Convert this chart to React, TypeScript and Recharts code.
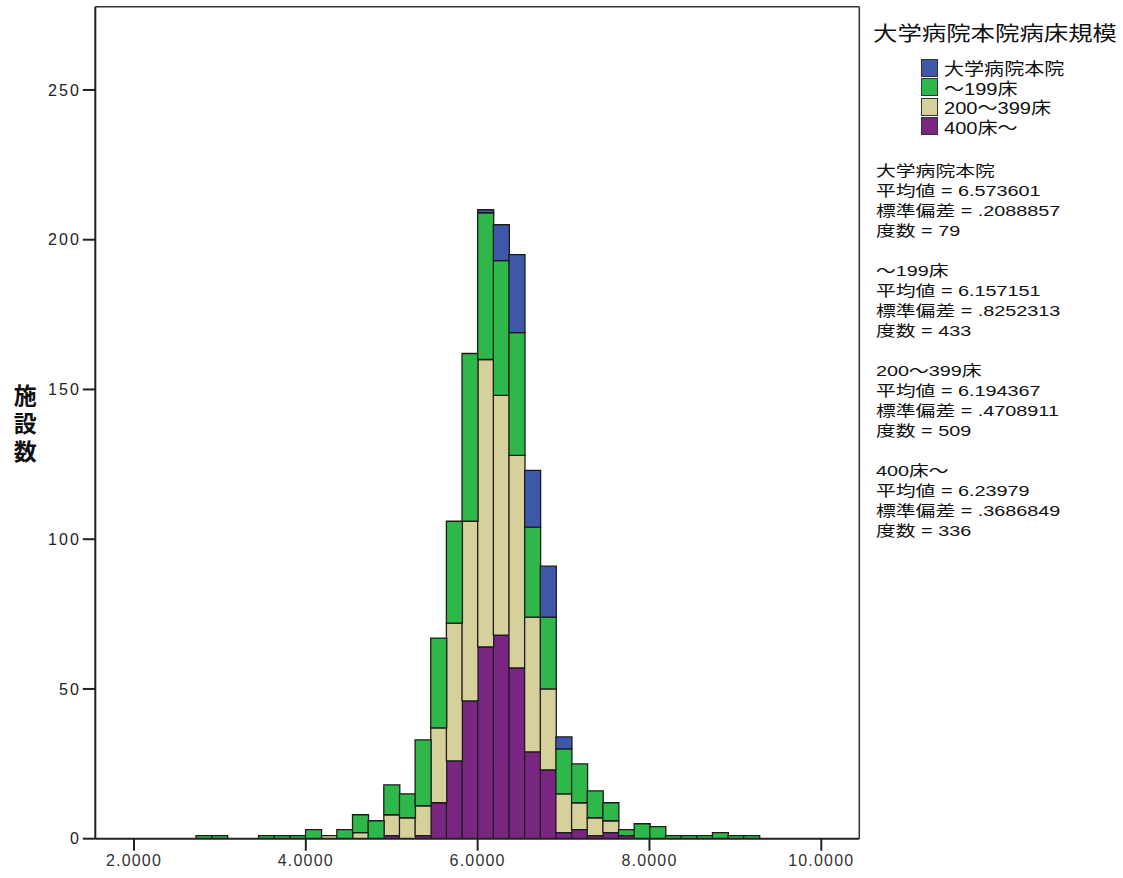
import React from "react";
import {
  BarChart,
  Bar,
  XAxis,
  YAxis,
  Label,
} from "recharts";

const FONT = "'Liberation Sans', 'Noto Sans CJK JP', sans-serif";

// histogram bin centres (bin width ~0.182)
const BIN_CENTERS = [
  2.8129, 2.995, 3.1772, 3.3593, 3.5415, 3.7236, 3.9058, 4.0879, 4.2701,
  4.4522, 4.6344, 4.8165, 4.9987, 5.1808, 5.363, 5.5451, 5.7273, 5.9094,
  6.0916, 6.2737, 6.4559, 6.638, 6.8202, 7.0023, 7.1845, 7.3666, 7.5488,
  7.7309, 7.9131, 8.0952, 8.2774, 8.4595, 8.6417, 8.8238, 9.006, 9.1881,
];

const UNIV_MAIN = [
  0, 0, 0, 0, 0, 0, 0, 0, 0, 0, 0, 0, 0, 0, 0, 0, 0, 0,
  1, 12, 26, 19, 17, 4,
  0, 0, 0, 0, 0, 0, 0, 0, 0, 0, 0, 0,
];
const BEDS_UNDER_200 = [
  1, 1, 0, 0, 1, 1, 1, 3, 0, 3, 6, 6, 10, 8, 22, 30, 34, 56,
  49, 45, 41, 30, 24, 15, 13, 9, 6, 2, 5, 4, 1, 1, 1, 2, 1, 1,
];
const BEDS_200_399 = [
  0, 0, 0, 0, 0, 0, 0, 0, 1, 0, 2, 0, 7, 7, 10, 25, 46, 60,
  96, 80, 71, 45, 27, 13, 9, 6, 4, 0, 0, 0, 0, 0, 0, 0, 0, 0,
];
const BEDS_400_PLUS = [
  0, 0, 0, 0, 0, 0, 0, 0, 0, 0, 0, 0, 1, 0, 1, 12, 26, 46,
  64, 68, 57, 29, 23, 2, 3, 1, 2, 1, 0, 0, 0, 0, 0, 0, 0, 0,
];

const X_TICKS = [2, 4, 6, 8, 10];
const Y_TICKS = [0, 50, 100, 150, 200, 250];

// bottom of the stack first
const SERIES = [
  { key: "b400", name: "400床～", color: "#7B2582" },
  { key: "b200", name: "200～399床", color: "#D6D19A" },
  { key: "b0", name: "～199床", color: "#2EB84A" },
  { key: "univ", name: "大学病院本院", color: "#3D58A8" },
];

const STATS = [
  { name: "大学病院本院", mean: "6.573601", sd: ".2088857", n: "79" },
  { name: "～199床", mean: "6.157151", sd: ".8252313", n: "433" },
  { name: "200～399床", mean: "6.194367", sd: ".4708911", n: "509" },
  { name: "400床～", mean: "6.23979", sd: ".3686849", n: "336" },
];

const data = BIN_CENTERS.map((x, i) => ({
  x,
  univ: UNIV_MAIN[i],
  b0: BEDS_UNDER_200[i],
  b200: BEDS_200_399[i],
  b400: BEDS_400_PLUS[i],
}));

function YTitle(props: any) {
  const vb = props.viewBox || { x: 0, y: 0, height: 0 };
  const cx = vb.x - 30;
  const cy = vb.y + vb.height / 2 - 19;
  return (
    <text
      x={cx}
      y={cy}
      textAnchor="middle"
      fontFamily={FONT}
      fontWeight="bold"
      fontSize={23}
      fill="#111"
    >
      {["施", "設", "数"].map((ch, i) => (
        <tspan key={ch} x={cx} dy={i === 0 ? 0 : 28}>
          {ch}
        </tspan>
      ))}
    </text>
  );
}

// text in the reference is drawn slightly stretched horizontally
const stretch = (sx: number): React.CSSProperties => ({
  display: "inline-block",
  transform: `scaleX(${sx})`,
  transformOrigin: "left center",
  whiteSpace: "nowrap",
});

function Legendish() {
  const top = [...SERIES].reverse();
  return (
    <div
      style={{
        position: "absolute",
        left: 873,
        top: 20,
        fontFamily: FONT,
        color: "#111",
      }}
    >
      <div style={{ fontSize: 20, lineHeight: "28px" }}>
        <span style={stretch(1.22)}>大学病院本院病床規模</span>
      </div>
      <div style={{ marginLeft: 48, marginTop: 10 }}>
        {top.map((s) => (
          <div
            key={s.key}
            style={{ display: "flex", alignItems: "center", height: 19.5 }}
          >
            <span
              style={{
                display: "inline-block",
                width: 15,
                height: 16,
                background: s.color,
                border: "1.5px solid #333",
                marginRight: 6,
              }}
            />
            <span style={{ fontSize: 17, ...stretch(1.18) }}>{s.name}</span>
          </div>
        ))}
      </div>
      <div
        style={{
          marginTop: 25,
          marginLeft: 3,
          fontSize: 15,
          lineHeight: "20px",
        }}
      >
        {STATS.map((s) => (
          <div key={s.name} style={{ marginBottom: 20 }}>
            <div><span style={stretch(1.32)}>{s.name}</span></div>
            <div><span style={stretch(1.32)}>平均値 = {s.mean}</span></div>
            <div><span style={stretch(1.32)}>標準偏差 = {s.sd}</span></div>
            <div><span style={stretch(1.32)}>度数 = {s.n}</span></div>
          </div>
        ))}
      </div>
    </div>
  );
}

export default function App() {
  return (
    <div
      style={{
        position: "absolute",
        left: 0,
        top: 0,
        width: 1123,
        height: 878,
        background: "#fff",
      }}
    >
      <BarChart
        width={1123}
        height={878}
        data={data}
        margin={{ top: 5.7, right: 262.7, bottom: 9.3, left: 55.3 }}
        barCategoryGap={0}
        barGap={0}
      >
        <XAxis
          dataKey="x"
          type="number"
          domain={[1.5495, 10.4424]}
          allowDataOverflow
          ticks={X_TICKS}
          tickFormatter={(v: number) => v.toFixed(4)}
          height={30}
          tickSize={12}
          tickMargin={4}
          axisLine={{ stroke: "#222", strokeWidth: 2 }}
          tickLine={{ stroke: "#222", strokeWidth: 2 }}
          tick={{ fill: "#333", fontSize: 16, fontFamily: FONT, letterSpacing: 1.2 }}
        />
        <XAxis
          xAxisId="top"
          orientation="top"
          type="number"
          domain={[1.5495, 10.4424]}
          allowDataOverflow
          height={1}
          tick={false}
          tickLine={false}
          axisLine={{ stroke: "#333", strokeWidth: 1.5 }}
        />
        <YAxis
          type="number"
          domain={[0, 277.8]}
          allowDataOverflow
          ticks={Y_TICKS}
          width={40}
          tickSize={12.5}
          tickMargin={2}
          axisLine={{ stroke: "#222", strokeWidth: 2 }}
          tickLine={{ stroke: "#222", strokeWidth: 2 }}
          tick={{ fill: "#222", fontSize: 16, fontFamily: FONT, letterSpacing: 2 }}
        >
          <Label content={YTitle} />
        </YAxis>
        <YAxis
          yAxisId="right"
          orientation="right"
          type="number"
          domain={[0, 277.8]}
          width={1}
          tick={false}
          tickLine={false}
          axisLine={{ stroke: "#333", strokeWidth: 1.5 }}
        />
        {SERIES.map((s) => (
          <Bar
            key={s.key}
            dataKey={s.key}
            name={s.name}
            stackId="all"
            fill={s.color}
            stroke="#1c1c1c"
            strokeWidth={1.3}
            isAnimationActive={false}
          />
        ))}
      </BarChart>
      <Legendish />
    </div>
  );
}
